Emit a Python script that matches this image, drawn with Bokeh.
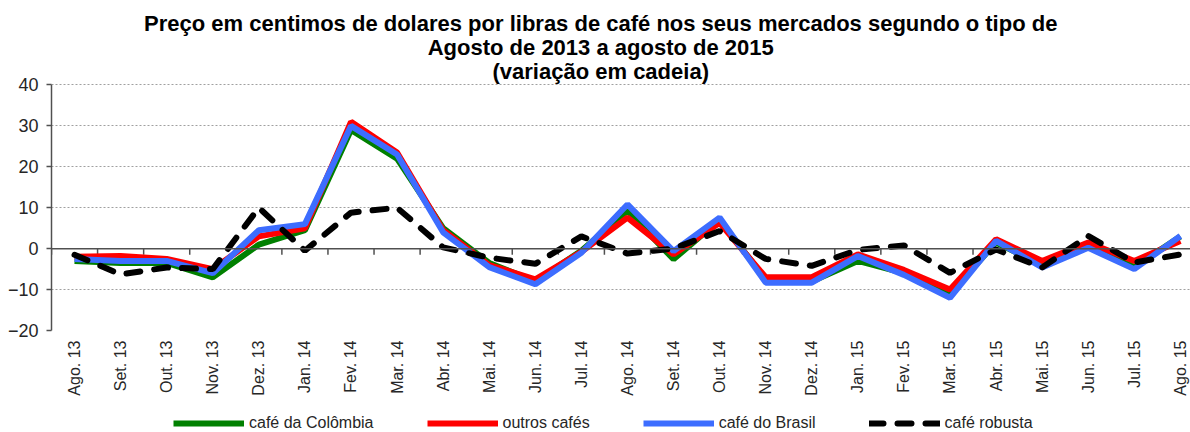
from math import pi
from bokeh.plotting import figure
from bokeh.layouts import column
from bokeh.models import Range1d, FixedTicker, Legend, LegendItem, Label, ColumnDataSource, Span
from bokeh.embed import file_html
from bokeh.resources import INLINE

categories = ["Ago. 13", "Set. 13", "Out. 13", "Nov. 13", "Dez. 13", "Jan. 14", "Fev. 14", "Mar. 14",
              "Abr. 14", "Mai. 14", "Jun. 14", "Jul. 14", "Ago. 14", "Set. 14", "Out. 14", "Nov. 14",
              "Dez. 14", "Jan. 15", "Fev. 15", "Mar. 15", "Abr. 15", "Mai. 15", "Jun. 15", "Jul. 15", "Ago. 15"]
colombia = [-3, -3.5, -3.5, -7, 1, 4.5, 29, 22, 5, -3.5, -8, -0.5, 9.2, -2.6, 7, -7.5,
            -8, -3, -6, -11, 1.5, -4, 1, -4.5, 3]
outros = [-2, -1.8, -2.5, -5, 3, 5, 31, 23.5, 4.5, -4, -7.5, -0.8, 7.6, -1.4, 6.3, -7,
          -7, -1.4, -5.2, -10, 2.3, -3, 1.5, -3, 1.9]
brasil = [-2.5, -3, -3, -6, 4.5, 6, 30, 23, 4, -4.5, -8.7, -1, 10.8, -0.6, 7.6, -8.3,
          -8.3, -1.8, -6.4, -12, 1.9, -4.6, 0.2, -5, 3.1]
robusta = [-1.5, -6.3, -4.6, -5, 10, -0.5, 8.8, 10, 0.3, -2.2, -3.7, 3, -1.2, 0, 4.3, -2.5,
           -4.2, -0.3, 0.8, -5.9, -0.2, -4.6, 3.1, -3.4, -1.4]
series_names = ["café da Colômbia", "outros cafés", "café do Brasil", "café robusta"]
y_ticks = [-20, -10, 0, 10, 20, 30, 40]
title_lines = ["Preço em centimos de dolares por libras de café nos seus mercados segundo o tipo de",
               "Agosto de 2013 a agosto de 2015",
               "(variação em cadeia)"]

idx = list(range(len(categories)))
src = ColumnDataSource(dict(x=idx, colombia=colombia, outros=outros, brasil=brasil, robusta=robusta))
cols = ["colombia", "outros", "brasil", "robusta"]

Y_END = 60.65
FRAME_H = 330
p = figure(width=1190, height=400, output_backend="svg", toolbar_location=None,
           x_range=Range1d(-0.5, 24.22), y_range=Range1d(-20, Y_END),
           min_border_left=51, min_border_right=0, min_border_top=0, min_border_bottom=70)
p.outline_line_color = None
p.background_fill_color = "white"
p.border_fill_color = "white"

# Y axis
p.yaxis.ticker = FixedTicker(ticks=y_ticks, minor_ticks=[])
p.yaxis.bounds = (-20, 40)
p.yaxis.axis_line_color = "#505050"
p.yaxis.axis_line_width = 1.5
p.yaxis.major_tick_line_color = "#505050"
p.yaxis.major_tick_line_width = 1.5
p.yaxis.major_tick_out = 5
p.yaxis.major_tick_in = 0
p.yaxis.minor_tick_line_color = None
p.yaxis.major_label_text_font = "Liberation Sans"
p.yaxis.major_label_text_font_size = "18px"
p.yaxis.major_label_text_color = "#262626"
p.yaxis.major_label_standoff = 8

# grids
p.xgrid.grid_line_color = None
p.ygrid.ticker = FixedTicker(ticks=y_ticks, minor_ticks=[])
p.ygrid.grid_line_color = "#a0a0a0"
p.ygrid.grid_line_dash = "2 2"
p.ygrid.grid_line_width = 1

# bottom label axis
xa = p.xaxis[0]
xa.ticker = FixedTicker(ticks=idx, minor_ticks=[])
xa.major_label_overrides = {i: c for i, c in zip(idx, categories)}
xa.major_label_orientation = pi / 2
xa.axis_line_color = None
xa.major_tick_line_color = None
xa.minor_tick_line_color = None
xa.major_tick_out = 0
xa.major_tick_in = 0
xa.major_label_standoff = 10
xa.major_label_text_font = "Liberation Sans"
xa.major_label_text_font_size = "16px"
xa.major_label_text_color = "#262626"

# category axis line at y = 0, with tick marks between categories
p.add_layout(Span(location=0, dimension="width", line_color="#505050", line_width=1.5))
ppu = FRAME_H / (Y_END + 20)
bounds = [i - 0.5 for i in range(len(categories) + 1)]
p.segment(x0=bounds, y0=[0] * len(bounds), x1=bounds, y1=[-6 / ppu] * len(bounds),
          line_color="#505050", line_width=1.5)

styles = [dict(line_color="#008000", line_width=6),
          dict(line_color="#ff0000", line_width=6),
          dict(line_color="#3d6dff", line_width=6),
          dict(line_color="black", line_width=6, line_dash="14 14", line_cap="round")]
for col, st in zip(cols, styles):
    p.line("x", col, source=src, **st)

title_y = [55.0, 49.2, 43.3]
for t, ty in zip(title_lines, title_y):
    p.add_layout(Label(x=11.42, y=ty, text=t, text_align="center", text_baseline="middle",
                       text_font="Liberation Sans", text_font_style="bold",
                       text_font_size="22px", text_color="black"))

# legend strip below the chart (same series, drawn outside its visible range)
lg = figure(width=1190, height=32, output_backend="svg", toolbar_location=None,
            x_range=Range1d(-0.5, 24.22), y_range=Range1d(1000, 1001),
            x_axis_location=None, y_axis_location=None,
            min_border_left=0, min_border_right=0, min_border_top=0, min_border_bottom=0)
lg.outline_line_color = None
lg.xgrid.grid_line_color = None
lg.ygrid.grid_line_color = None
items = []
for name, col, st in zip(series_names, cols, styles):
    r = lg.line("x", col, source=src, **st)
    items.append(LegendItem(label=name, renderers=[r]))
legend = Legend(items=items, orientation="horizontal", location=(122, 0),
                glyph_width=71, glyph_height=16, label_height=16, label_standoff=5, spacing=53,
                border_line_color=None, background_fill_alpha=0,
                label_text_font="Liberation Sans", label_text_font_size="16px",
                label_text_color="#262626", padding=0, margin=0)
lg.add_layout(legend, "center")

layout = column(p, lg, spacing=0)
open("out.html", "w").write(file_html(layout, INLINE))
